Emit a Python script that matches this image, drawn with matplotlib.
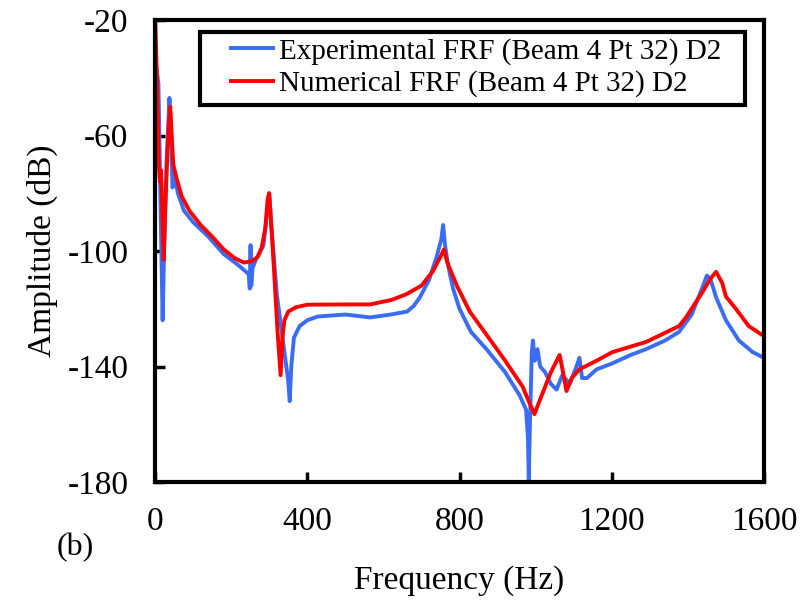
import matplotlib
matplotlib.use("Agg")
import matplotlib.pyplot as plt
from matplotlib.patches import Rectangle

plt.rcParams['font.family'] = ['Liberation Serif', 'DejaVu Serif']
plt.rcParams['axes.unicode_minus'] = False

# Experimental FRF (blue)
exp_freq = [1, 5, 9, 14, 20, 24, 30, 38, 42, 46, 52, 60, 76, 100, 140, 180, 220,
            246, 249, 251, 253, 256, 265, 285, 295, 300, 305, 320, 340, 350, 354,
            358, 365, 380, 400, 427, 500, 565, 620, 640, 662, 680, 696, 720, 740,
            752, 757, 762, 770, 783, 800, 830, 871, 920, 958, 975, 980, 982, 985,
            990, 993, 998, 1005, 1012, 1025, 1040, 1055, 1070, 1090, 1110, 1115,
            1122, 1135, 1160, 1200, 1250, 1290, 1340, 1377, 1410, 1437, 1450,
            1460, 1474, 1500, 1534, 1570, 1600]
exp_amp = [-34, -38, -42, -80, -124, -100, -70, -47, -60, -78, -74, -80, -86, -90,
           -95, -101, -105, -108, -113, -98, -112, -106, -103, -98, -86, -80, -90,
           -115, -135, -145, -152, -140, -130, -126, -124, -122.7, -122, -123,
           -122, -121.5, -121, -119, -116, -110, -102, -96, -91, -98, -105, -113,
           -120, -128, -134, -142, -150, -155, -165, -180, -160, -135, -131, -138,
           -134, -140, -142, -146, -148, -143, -146, -139, -137, -144, -144, -141,
           -139, -136, -134, -131, -128, -122, -113, -108.5, -110, -116, -124,
           -131, -135, -137]

# Numerical FRF (red)
num_freq = [1, 6, 10, 13, 16, 20, 23, 27, 33, 37, 40, 44, 48, 55, 70, 90, 120,
            150, 181, 210, 233, 255, 270, 280, 290, 296, 300, 304, 312, 322, 330,
            335, 340, 350, 370, 400, 500, 565, 620, 660, 700, 730, 750, 759, 768,
            793, 827, 871, 920, 966, 985, 997, 1010, 1040, 1063, 1072, 1081, 1095,
            1115, 1160, 1202, 1290, 1377, 1395, 1437, 1460, 1474, 1490, 1500,
            1526, 1560, 1600]
num_amp = [-21, -45, -70, -76, -72, -90, -103, -85, -65, -55, -50, -60, -70, -74,
           -81, -86, -91, -95, -99.5, -102.5, -104, -103.5, -102, -99, -92, -82,
           -80, -88, -105, -128, -143, -130, -124, -121, -119.5, -118.6, -118.5,
           -118.5, -117, -115, -112, -107, -102, -99.5, -104, -112, -121, -129,
           -138, -147, -153, -156.5, -152, -142, -136, -142, -148.5, -144, -141,
           -138, -135, -131.5, -126, -123, -114.5, -109.5, -107.2, -111, -115.8,
           -120, -126, -129.5]

x_ticks = [0, 400, 800, 1200, 1600]
y_ticks = [-20, -60, -100, -140, -180]

W, H = 809, 603
fig = plt.figure(figsize=(W/100, H/100), dpi=100)
ax = fig.add_axes([155/W, 1-482/H, (764-155)/W, (482-20)/H])

ax.plot(exp_freq, exp_amp, color='#3a6cf4', lw=2.8, label='Experimental FRF (Beam 4 Pt 32) D2')
ax.plot(num_freq, num_amp, color='#ff0000', lw=2.8, label='Numerical FRF (Beam 4 Pt 32) D2')

ax.set_xlim(0, 1600)
ax.set_ylim(-180, -20)
ax.set_xticks(x_ticks)
ax.set_yticks(y_ticks)
ax.tick_params(direction='in', length=7, width=2.5, labelsize=24)
ax.tick_params(axis='y', pad=19)
ax.tick_params(axis='x', pad=18)
for s in ax.spines.values():
    s.set_linewidth(3)

ax.set_xlabel('Frequency (Hz)', fontsize=24, labelpad=20)
ax.set_ylabel('Amplitude (dB)', fontsize=24, labelpad=7)

fig.text(75/W, 1-548/H, '(b)', fontsize=23, ha='center', va='center')

# legend frame
fig.patches.append(Rectangle((200/W, 1-105/H), (745-200)/W, (105-32)/H,
                             transform=fig.transFigure, fill=True, facecolor='white',
                             edgecolor='black', lw=3, zorder=5))
leg = ax.legend(loc='upper left', bbox_to_anchor=(231/W, 1-38/H),
                bbox_transform=fig.transFigure, fontsize=21, frameon=False,
                handlelength=1.45, handletextpad=0.2, borderpad=0.0,
                labelspacing=0.18, borderaxespad=0)
leg.set_zorder(6)
fig.legends.append(ax.legend_)
ax.legend_ = None

fig.savefig('out.png', dpi=100)
